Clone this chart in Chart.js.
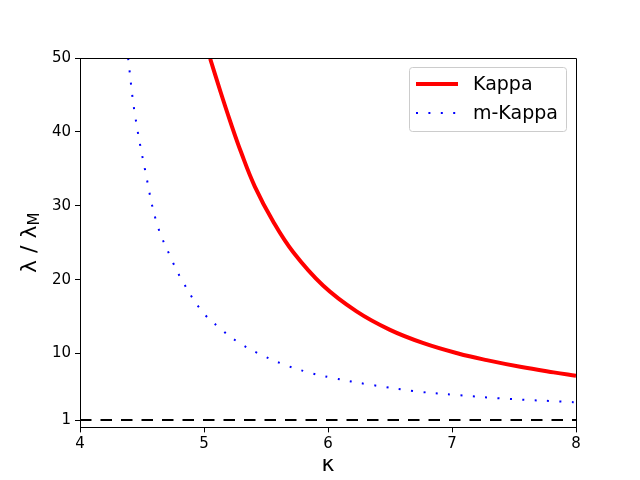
<!DOCTYPE html>
<html>
<head>
<meta charset="utf-8">
<script src="https://cdn.jsdelivr.net/npm/chart.js@4"></script>
<style>
  html, body { margin: 0; padding: 0; background: #fff; }
  #wrap { width: 640px; height: 480px; }
</style>
</head>
<body>
<div id="wrap"><canvas id="myChart"></canvas></div>
<script>
// values
const kappaX = [5.05, 5.13, 5.21, 5.30, 5.41, 5.56, 5.72, 5.96, 6.23, 6.50, 6.77, 7.05, 7.28, 7.55, 7.82, 8.00];
const kappaY = [49.9, 45.6, 41.5, 37.2, 32.6, 27.8, 23.7, 19.2, 15.7, 13.2, 11.4, 10.0, 9.1, 8.2, 7.45, 7.0];

const mKappaX = [4.388, 4.44, 4.53, 4.62, 4.73, 4.82, 4.98, 5.13, 5.29, 5.47, 5.65, 5.84, 6.03, 6.34, 6.74, 7.04, 7.44, 7.95, 8.00];
const mKappaY = [50.0, 42.7, 34.4, 27.6, 23.06, 20.0, 15.8, 13.4, 11.38, 9.76, 8.48, 7.46, 6.73, 5.78, 4.83, 4.38, 3.88, 3.44, 3.4];

const refX = [4, 8];
const refY = [1, 1];

const xTicks = [4, 5, 6, 7, 8];
const yTicks = [1, 10, 20, 30, 40, 50];

const seriesNames = ["Kappa", "m-Kappa"];

function pts(xs, ys) {
  return xs.map((x, i) => ({ x: x, y: ys[i] }));
}

Chart.defaults.font.family = "'DejaVu Sans'";
Chart.defaults.color = "#000";

// top and right spines
const frame = {
  id: "frame",
  afterDraw(chart) {
    const { ctx, chartArea } = chart;
    ctx.save();
    ctx.strokeStyle = "#000";
    ctx.lineWidth = 1;
    ctx.beginPath();
    ctx.moveTo(Math.round(chartArea.left) + 0.5, Math.round(chartArea.top) + 0.5);
    ctx.lineTo(Math.round(chartArea.right) + 0.5, Math.round(chartArea.top) + 0.5);
    ctx.lineTo(Math.round(chartArea.right) + 0.5, Math.round(chartArea.bottom) + 0.5);
    ctx.stroke();
    ctx.restore();
  },
};

// y title with subscript M
const yTitle = {
  id: "yTitle",
  afterDraw(chart) {
    const { ctx, chartArea } = chart;
    ctx.save();
    ctx.translate(36, (chartArea.top + chartArea.bottom) / 2);
    ctx.rotate(-Math.PI / 2);
    ctx.fillStyle = "#000";
    ctx.textBaseline = "alphabetic";
    ctx.font = "22px 'DejaVu Sans'";
    const main = "λ / λ";
    const w1 = ctx.measureText(main).width;
    ctx.font = "15px 'DejaVu Sans'";
    const w2 = ctx.measureText("M").width;
    const x0 = -(w1 + w2) / 2;
    ctx.font = "22px 'DejaVu Sans'";
    ctx.fillText(main, x0, 0);
    ctx.font = "15px 'DejaVu Sans'";
    ctx.fillText("M", x0 + w1, 3);
    ctx.restore();
  },
};

// legend box in the upper right corner of the plot
const boxLegend = {
  id: "boxLegend",
  afterDraw(chart) {
    const { ctx } = chart;
    const items = chart.data.datasets.filter((d) => d.label);
    const bx = 409, by = 67, bw = 157, bh = 64;
    ctx.save();
    ctx.fillStyle = "rgba(255,255,255,0.8)";
    ctx.strokeStyle = "#cccccc";
    ctx.lineWidth = 1;
    ctx.beginPath();
    ctx.roundRect(bx + 0.5, by + 0.5, bw, bh, 3);
    ctx.fill();
    ctx.stroke();
    ctx.font = "19px 'DejaVu Sans'";
    ctx.textBaseline = "middle";
    items.forEach((d, i) => {
      const y = 84 + i * 29;
      ctx.strokeStyle = d.borderColor;
      ctx.lineWidth = d.borderWidth;
      ctx.setLineDash(d.borderDash || []);
      ctx.beginPath();
      ctx.moveTo(416, y);
      ctx.lineTo(458, y);
      ctx.stroke();
      ctx.setLineDash([]);
      ctx.fillStyle = "#000";
      ctx.fillText(d.label, 473, y + 1);
    });
    ctx.restore();
  },
};

new Chart(document.getElementById("myChart"), {
  type: "line",
  data: {
    datasets: [
      {
        label: seriesNames[0],
        data: pts(kappaX, kappaY),
        borderColor: "#ff0000",
        borderWidth: 4,
        pointRadius: 0,
        tension: 0.4,
        clip: 0,
      },
      {
        label: seriesNames[1],
        data: pts(mKappaX, mKappaY),
        borderColor: "#0000ff",
        borderWidth: 2,
        borderDash: [2, 10.4],
        pointRadius: 0,
        tension: 0.4,
        clip: 0,
      },
      {
        data: pts(refX, refY),
        borderColor: "#000",
        borderWidth: 2,
        borderDash: [11.5, 9],
        pointRadius: 0,
        clip: 0,
      },
    ],
  },
  options: {
    responsive: true,
    maintainAspectRatio: false,
    animation: false,
    layout: { padding: { left: 0, right: 64, top: 58, bottom: 0 } },
    plugins: {
      legend: { display: false },
      tooltip: { enabled: false },
    },
    scales: {
      x: {
        type: "linear",
        min: 4,
        max: 8,
        afterBuildTicks: (scale) => {
          scale.ticks = xTicks.map((v) => ({ value: v }));
        },
        afterFit: (scale) => {
          scale.height = 52.6;
        },
        ticks: { font: { size: 15 }, color: "#000", padding: 3 },
        grid: { drawOnChartArea: false, tickLength: 5, tickColor: "#000", tickWidth: 1 },
        border: { color: "#000", width: 1 },
        title: { display: true, text: "κ", font: { size: 22 }, color: "#000", padding: { top: 0, bottom: 2 } },
      },
      y: {
        type: "linear",
        min: 0,
        max: 50,
        afterBuildTicks: (scale) => {
          scale.ticks = yTicks.map((v) => ({ value: v }));
        },
        afterFit: (scale) => {
          scale.width = 80;
        },
        ticks: { font: { size: 15 }, color: "#000", padding: 4 },
        grid: { drawOnChartArea: false, tickLength: 5, tickColor: "#000", tickWidth: 1 },
        border: { color: "#000", width: 1 },
      },
    },
  },
  plugins: [frame, yTitle, boxLegend],
});
</script>
</body>
</html>
